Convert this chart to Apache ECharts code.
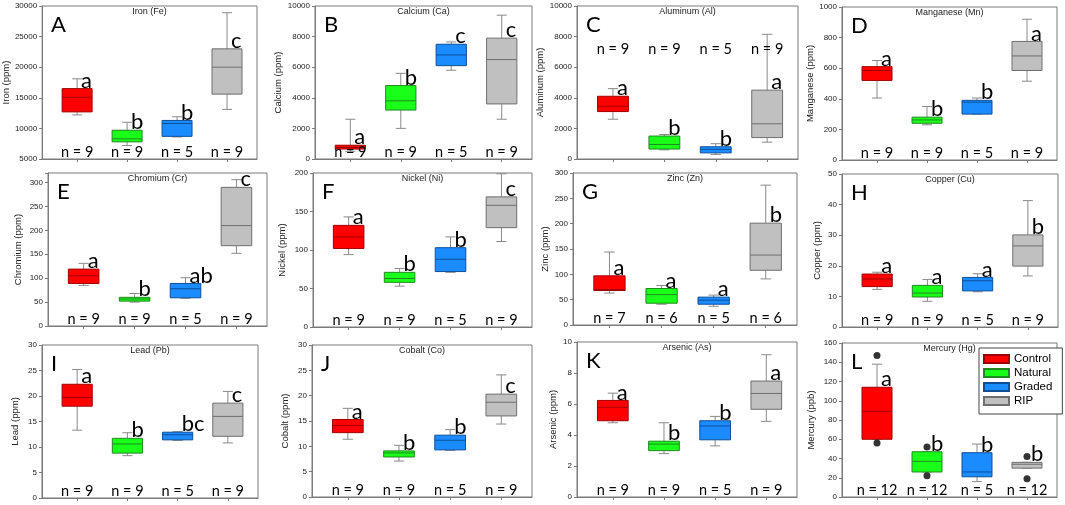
<!DOCTYPE html>
<html>
<head>
<meta charset="utf-8">
<script src="https://cdn.jsdelivr.net/npm/echarts@6/dist/echarts.min.js"></script>
<style>
  html, body { margin: 0; padding: 0; background: #fff; }
  #chart { width: 1065px; height: 505px; }
</style>
</head>
<body>
<div id="chart"></div>
<script>
const groups = ['Control', 'Natural', 'Graded', 'RIP'];
const groupX = [1, 2, 3, 4];

// box stats per group: [min, Q1, median, Q3, max]
const ironStats = [[12200, 12700, 15100, 16500, 18100], [7200, 7800, 8300, 9700, 11000], [8600, 8700, 10800, 11300, 11900], [13100, 15600, 20000, 23000, 28900]];
const ironLetters = ['a', 'b', 'b', 'c'];
const ironN = [9, 9, 5, 9];

const calciumStats = [[500, 650, 750, 900, 2600], [2000, 3200, 3800, 4800, 5600], [5800, 6100, 6800, 7500, 7650], [2600, 3600, 6500, 7900, 9400]];
const calciumLetters = ['a', 'b', 'c', 'c'];
const calciumN = [9, 9, 5, 9];

const aluminumStats = [[2600, 3100, 3450, 4100, 4600], [600, 650, 950, 1500, 1600], [300, 400, 630, 800, 1000], [1100, 1400, 2300, 4500, 8150]];
const aluminumLetters = ['a', 'b', 'b', 'a'];
const aluminumN = [9, 9, 5, 9];

const manganeseStats = [[405, 520, 585, 610, 650], [230, 240, 262, 280, 350], [300, 300, 378, 390, 405], [515, 585, 680, 775, 920]];
const manganeseLetters = ['a', 'b', 'b', 'a'];
const manganeseN = [9, 9, 5, 9];

const chromiumStats = [[85, 89, 105, 119, 131], [50, 52, 56.5, 60, 68], [58, 59, 78, 89, 101], [152, 168, 210, 290, 306]];
const chromiumLetters = ['a', 'b', 'ab', 'c'];
const chromiumN = [9, 9, 5, 9];

const nickelStats = [[94, 102, 117, 132, 143], [53, 58, 63, 71, 76], [71, 72, 88, 103, 117], [111, 129, 158, 169, 199]];
const nickelLetters = ['a', 'b', 'b', 'c'];
const nickelN = [9, 9, 5, 9];

const zincStats = [[63, 68, 70, 97, 144], [41, 43, 60, 72, 78], [37, 41, 49, 55, 59], [91, 108, 138, 201, 276]];
const zincLetters = ['a', 'a', 'a', 'b'];
const zincN = [7, 6, 5, 6];

const copperStats = [[12.3, 13.2, 15.7, 17.3, 17.9], [8.4, 9.8, 11.1, 13.6, 15.5], [11.5, 11.8, 15.1, 16.2, 17.4], [16.7, 19.9, 26.5, 30.1, 41.3]];
const copperLetters = ['a', 'a', 'a', 'b'];
const copperN = [9, 9, 5, 9];

const leadStats = [[13.3, 18, 19.7, 22.3, 25.2], [8.3, 8.8, 10.6, 11.7, 12.8], [11.3, 11.4, 12.4, 12.9, 13.0], [10.8, 12.1, 16, 18.6, 20.9]];
const leadLetters = ['a', 'b', 'bc', 'c'];
const leadN = [9, 9, 5, 9];

const cobaltStats = [[11.4, 12.7, 14.1, 15.3, 17.5], [7.1, 7.9, 8.7, 9.1, 10.2], [9.2, 9.3, 11.2, 12.2, 13.3], [14.4, 16, 18.7, 20.3, 24.1]];
const cobaltLetters = ['a', 'b', 'b', 'c'];
const cobaltN = [9, 9, 5, 9];

const arsenicStats = [[4.79, 4.92, 5.79, 6.23, 6.7], [2.8, 2.99, 3.41, 3.6, 4.79], [3.3, 3.69, 4.58, 4.92, 5.2], [4.88, 5.66, 6.68, 7.48, 9.18]];
const arsenicLetters = ['a', 'b', 'b', 'a'];
const arsenicN = [9, 9, 5, 9];

const mercuryStats = [[60, 60, 89, 114, 138], [26, 26, 37, 47, 47], [16, 21, 26, 46, 55], [30, 30, 34, 36, 36]];
const mercuryLetters = ['a', 'b', 'b', 'b'];
const mercuryN = [12, 12, 5, 12];
const mercuryOutliers = [[1, 147], [1, 56], [2, 52], [2, 22], [4, 42], [4, 19]];

const fills = ['#ff0000', '#1aff1a', '#1a8cff', '#c0c0c0'];
const edges = ['#a00000', '#1f8a1f', '#0f4f9a', '#6e6e6e'];
const WHISKER = '#8a8a8a';
const FRAME = '#7a7a7a';
const BOX_W = 0.6;
const CAP_W = 0.2;
const SANS = '"Liberation Sans", Arial, sans-serif';
const CALI = 'Lato, "Open Sans", sans-serif';

// grid: [left, top, width, height]
const panels = [
    { tag: 'A', title: 'Iron (Fe)', yName: 'Iron (ppm)', stats: ironStats, letters: ironLetters, n: ironN, min: 5000, max: 30000, interval: 5000, grid: [42, 6, 215, 153], nameGap: 30 },
    { tag: 'B', title: 'Calcium (Ca)', yName: 'Calcium (ppm)', stats: calciumStats, letters: calciumLetters, n: calciumN, min: 0, max: 10000, interval: 2000, grid: [315, 6, 217, 153], nameGap: 31 },
    { tag: 'C', title: 'Aluminum (Al)', yName: 'Aluminum (ppm)', stats: aluminumStats, letters: aluminumLetters, n: aluminumN, min: 0, max: 10000, interval: 2000, grid: [577, 6, 221, 153], nameGap: 28, nAt: 7200 },
    { tag: 'D', title: 'Manganese (Mn)', yName: 'Manganese (ppm)', stats: manganeseStats, letters: manganeseLetters, n: manganeseN, min: 0, max: 1000, interval: 200, grid: [842, 7, 215, 153], nameGap: 23 },
    { tag: 'E', title: 'Chromium (Cr)', yName: 'Chromium (ppm)', stats: chromiumStats, letters: chromiumLetters, n: chromiumN, min: 0, max: 320, interval: 50, grid: [48, 173, 219, 153], nameGap: 25 },
    { tag: 'F', title: 'Nickel (Ni)', yName: 'Nickel (ppm)', stats: nickelStats, letters: nickelLetters, n: nickelN, min: 0, max: 200, interval: 50, grid: [313, 173, 219, 154], nameGap: 26 },
    { tag: 'G', title: 'Zinc (Zn)', yName: 'Zinc (ppm)', stats: zincStats, letters: zincLetters, n: zincN, min: 0, max: 300, interval: 50, grid: [573, 173, 224, 152], nameGap: 20 },
    { tag: 'H', title: 'Copper (Cu)', yName: 'Copper (ppm)', stats: copperStats, letters: copperLetters, n: copperN, min: 0, max: 50, interval: 10, grid: [842, 174, 216, 153], nameGap: 20 },
    { tag: 'I', title: 'Lead (Pb)', yName: 'Lead (ppm)', stats: leadStats, letters: leadLetters, n: leadN, min: 0, max: 30, interval: 5, grid: [42, 345, 216, 153], nameGap: 22 },
    { tag: 'J', title: 'Cobalt (Co)', yName: 'Cobalt (ppm)', stats: cobaltStats, letters: cobaltLetters, n: cobaltN, min: 0, max: 30, interval: 5, grid: [312, 345, 220, 152], nameGap: 22 },
    { tag: 'K', title: 'Arsenic (As)', yName: 'Arsenic (ppm)', stats: arsenicStats, letters: arsenicLetters, n: arsenicN, min: 0, max: 10, interval: 2, grid: [577, 342, 220, 155], nameGap: 19 },
    { tag: 'L', title: 'Mercury (Hg)', yName: 'Mercury (ppb)', stats: mercuryStats, letters: mercuryLetters, n: mercuryN, min: 0, max: 160, interval: 20, grid: [842, 343, 215, 154], nameGap: 26 }
];

function makeBox(p, gi) {
    return function (params, api) {
        const x = api.value(0);
        const yLo = api.coord([x, api.value(1)])[1];
        const yQ1 = api.coord([x, api.value(2)])[1];
        const yMed = api.coord([x, api.value(3)])[1];
        const yQ3 = api.coord([x, api.value(4)])[1];
        const yHi = api.coord([x, api.value(5)])[1];
        const cx = api.coord([x, api.value(3)])[0];
        const half = api.size([BOX_W, 0])[0] / 2;
        const cap = api.size([CAP_W, 0])[0] / 2;
        const yBase = api.coord([x, p.min])[1];
        const nY = p.nAt != null ? api.coord([x, p.nAt])[1] : yBase - 7;
        const wStyle = { stroke: WHISKER, lineWidth: 1 };
        return {
            type: 'group',
            children: [
                { type: 'line', shape: { x1: cx, y1: yHi, x2: cx, y2: yQ3 }, style: wStyle },
                { type: 'line', shape: { x1: cx, y1: yQ1, x2: cx, y2: yLo }, style: wStyle },
                { type: 'line', shape: { x1: cx - cap, y1: yHi, x2: cx + cap, y2: yHi }, style: wStyle },
                { type: 'line', shape: { x1: cx - cap, y1: yLo, x2: cx + cap, y2: yLo }, style: wStyle },
                {
                    type: 'rect',
                    shape: { x: cx - half, y: yQ3, width: half * 2, height: Math.max(yQ1 - yQ3, 1) },
                    style: { fill: fills[gi], stroke: edges[gi], lineWidth: 1 }
                },
                { type: 'line', shape: { x1: cx - half, y1: yMed, x2: cx + half, y2: yMed }, style: { stroke: edges[gi], lineWidth: 1 } },
                {
                    type: 'text', x: cx + 4, y: yQ3 + 3,
                    style: { text: p.letters[gi], font: '22px ' + CALI, fill: '#000', align: 'left', verticalAlign: 'bottom' }
                },
                {
                    type: 'text', x: cx, y: nY,
                    style: { text: 'n = ' + p.n[gi], font: '14.5px ' + CALI, fill: '#000', align: 'center', verticalAlign: 'middle' }
                }
            ]
        };
    };
}

const option = {
    animation: false,
    backgroundColor: '#fff',
    grid: [], xAxis: [], yAxis: [], series: [], graphic: [],
    legend: {
        data: groups,
        orient: 'vertical',
        left: 979, top: 348,
        icon: 'rect',
        itemWidth: 25, itemHeight: 8, itemGap: 2,
        padding: [5, 10, 7, 4],
        backgroundColor: '#fff',
        borderColor: '#444', borderWidth: 1,
        selectedMode: false,
        textStyle: { fontSize: 11.5, fontFamily: SANS, color: '#000' }
    }
};

panels.forEach((p, pi) => {
    const [left, top, width, height] = p.grid;
    option.grid.push({ left, top, width, height, show: true, borderColor: FRAME, borderWidth: 1 });
    option.xAxis.push({
        gridIndex: pi, type: 'value', min: 0.3, max: 4.6,
        axisLine: { show: true, lineStyle: { color: FRAME } },
        axisTick: { show: true, length: 3, customValues: groupX, lineStyle: { color: FRAME } },
        axisLabel: { show: false },
        splitLine: { show: false }
    });
    option.yAxis.push({
        gridIndex: pi, type: 'value', min: p.min, max: p.max, interval: p.interval,
        name: p.yName, nameLocation: 'middle', nameGap: p.nameGap,
        nameTextStyle: { fontSize: 9.5, fontFamily: SANS, color: '#222' },
        axisLine: { show: true, lineStyle: { color: FRAME } },
        axisTick: { show: true, length: 3, lineStyle: { color: FRAME } },
        axisLabel: { fontSize: 8, fontFamily: SANS, color: '#222', margin: 5,
            formatter: v => (v % p.interval === 0 ? String(v) : '') },
        splitLine: { show: false }
    });
    groups.forEach((g, gi) => {
        option.series.push({
            type: 'custom', name: g, xAxisIndex: pi, yAxisIndex: pi,
            itemStyle: { color: fills[gi], borderColor: edges[gi], borderWidth: 1 },
            encode: { x: 0, y: [1, 2, 3, 4, 5] },
            data: [[groupX[gi]].concat(p.stats[gi])],
            renderItem: makeBox(p, gi)
        });
    });
    option.graphic.push({
        type: 'text', x: left + width / 2, y: top + 1,
        style: { text: p.title, font: '9px ' + SANS, fill: '#222', align: 'center', verticalAlign: 'top' }
    });
    option.graphic.push({
        type: 'text', x: left + 9, y: top + 8,
        style: { text: p.tag, font: '22px ' + CALI, fill: '#000', align: 'left', verticalAlign: 'top' }
    });
});

option.series.push({
    type: 'scatter', name: 'outliers', xAxisIndex: 11, yAxisIndex: 11,
    symbol: 'circle', symbolSize: 7,
    itemStyle: { color: '#000' },
    data: mercuryOutliers,
    z: 5
});

const chart = echarts.init(document.getElementById('chart'));
chart.setOption(option);
</script>
</body>
</html>
